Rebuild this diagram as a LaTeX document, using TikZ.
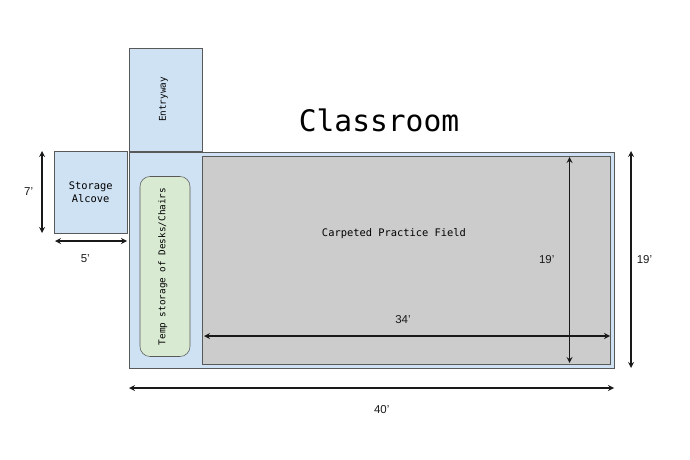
\documentclass[tikz,border=0pt]{standalone}
\usepackage{xcolor}
\usepackage{fontspec}
\setmainfont{Liberation Sans}
\setmonofont{DejaVu Sans Mono}
\usetikzlibrary{positioning,arrows}
\definecolor{roomblue}{HTML}{CFE2F3}
\definecolor{tempgreen}{HTML}{D9EAD3}
\definecolor{fieldgray}{HTML}{CCCCCC}
\definecolor{wallgray}{HTML}{595959}
\tikzstyle{room} = [rectangle, outer sep=0pt, align=center, draw=wallgray, fill=roomblue, font=\ttfamily\fontsize{7.8}{9.8}\selectfont]
\tikzstyle{field} = [room, fill=fieldgray]
\tikzstyle{temp} = [room, rounded corners=7.5pt, fill=tempgreen, font=\ttfamily\fontsize{7}{9}\selectfont, text depth=4.6pt]
\tikzstyle{dimen} = [font=\fontsize{8.6}{10}\selectfont, text=black!90]
\tikzstyle{arrow} = [line width=1pt,<->,>=stealth,black!90]

\begin{document}
\begin{tikzpicture}[x=0.75pt,y=-0.75pt]
	\useasboundingbox (0,0) rectangle (690,460);
	\node (classroom) [room, minimum width=363.75pt, minimum height=162pt] at (371.5,260) {};
	\node (field) [field, minimum width=305.6pt, minimum height=156pt] at (406.2,260) {};
	\node (fieldtext) at (394,233.5) [font=\ttfamily\fontsize{7.8}{10}\selectfont] {Carpeted Practice Field};
	\node (temp) [temp, rotate=90, minimum width=135pt, minimum height=37.5pt] at (165,266.5) {Temp storage of Desks/Chairs};
	\node (entry) [room, rotate=90, minimum width=77.25pt, minimum height=54.75pt, font=\ttfamily\fontsize{7}{9}\selectfont, text depth=4.6pt] at (165.5,99.5) {Entryway};
	\node (storage) [room, minimum width=55pt, minimum height=61.5pt] at (90.7,192) {Storage\\Alcove};
	\node (title) at (379,120) [font=\ttfamily\fontsize{22.2}{26}\selectfont] {Classroom};

	\coordinate (storagetop) at (42,151);
	\coordinate (storagebot) at (42,233);
	\coordinate (alcoveleft) at (55,241);
	\coordinate (alcoveright) at (127,241);
	\coordinate (roomleft) at (129,388);
	\coordinate (roomright) at (614,388);
	\coordinate (roomtop) at (631,151);
	\coordinate (roombot) at (631,368);
	\coordinate (fieldtop) at (569.5,157);
	\coordinate (fieldbot) at (569.5,363);
	\coordinate (fieldleft) at (204,336);
	\coordinate (fieldright) at (610,336);

	\draw [arrow] (storagetop) -- node[dimen, left=2.8pt] {7'} (storagebot);
	\draw [arrow] (alcoveleft) -- node[dimen, below=6.7pt, pos=0.42] {5'} (alcoveright);
	\draw [arrow] (roomleft) -- node[dimen, below=9.3pt, pos=0.521] {40'} (roomright);
	\draw [arrow] (roomtop) -- node[dimen, right=0.5pt] {19'} (roombot);
	\draw [arrow] (fieldtop) -- node[dimen, left=7.5pt] {19'} (fieldbot);
	\draw [arrow] (fieldleft) -- node[dimen, above=5.7pt, pos=0.49] {34'} (fieldright);

\end{tikzpicture}
\end{document}
